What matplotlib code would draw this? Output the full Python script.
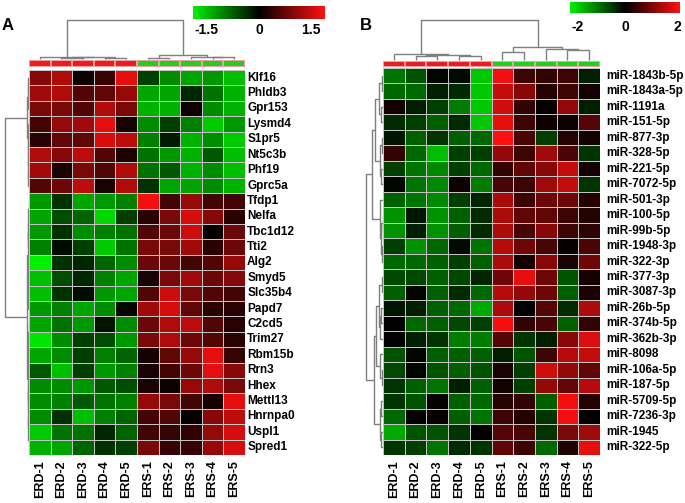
import numpy as np
import matplotlib
matplotlib.use("Agg")
import matplotlib.pyplot as plt
from matplotlib.colors import LinearSegmentedColormap, Normalize, TwoSlopeNorm, ListedColormap
import matplotlib.cm as cm

plt.rcParams['font.family'] = ['Liberation Sans', 'DejaVu Sans']
plt.rcParams['font.weight'] = 'bold'

# ---------------- DATA ----------------
samples = ["ERD-1", "ERD-2", "ERD-3", "ERD-4", "ERD-5",
           "ERS-1", "ERS-2", "ERS-3", "ERS-4", "ERS-5"]
groups = [0, 0, 0, 0, 0, 1, 1, 1, 1, 1]

genes_a = ["Klf16", "Phldb3", "Gpr153", "Lysmd4", "S1pr5", "Nt5c3b", "Phf19", "Gprc5a",
           "Tfdp1", "Nelfa", "Tbc1d12", "Tti2", "Alg2", "Smyd5", "Slc35b4", "Papd7",
           "C2cd5", "Trim27", "Rbm15b", "Rrn3", "Hhex", "Mettl13", "Hnrnpa0", "Uspl1", "Spred1"]
values_a = [
    [1.0, 1.3, 0.1, 0.4, 1.7, -0.5, -1.1, -1.3, -1.2, -1.5],
    [1.2, 1.3, 0.6, 0.7, 1.1, -1.3, -1.3, -0.3, -0.9, -1.4],
    [0.9, 0.9, 0.6, 1.3, 0.9, -1.4, -1.4, 0.1, -1.1, -1.4],
    [0.5, 1.1, 1.2, 1.7, 0.2, -1.1, -0.5, -1.0, -1.6, -1.2],
    [0.3, 0.7, 0.7, 1.6, 1.4, -1.0, -0.2, -1.4, -1.1, -1.6],
    [1.3, 1.0, 1.4, 0.6, 0.2, -0.9, -1.2, -1.4, -0.7, -1.5],
    [1.2, 0.2, 0.9, 0.6, 1.3, -0.9, -0.7, -1.4, -1.1, -1.5],
    [0.6, 0.8, 1.4, 0.2, 1.3, -0.4, -1.3, -1.3, -1.1, -1.4],
    [-1.2, -0.4, -1.3, -1.2, -1.0, 1.8, 0.5, 1.1, 0.5, 0.5],
    [-1.3, -0.6, -0.8, -1.7, -0.5, 0.3, 0.9, 1.6, 1.0, 0.3],
    [-1.2, -0.4, -1.1, -1.0, -0.9, 0.6, 0.8, 1.5, 0.05, 0.8],
    [-1.0, -0.1, -0.5, -1.6, -0.9, 0.9, 0.9, 1.2, 0.3, 0.8],
    [-1.9, -0.4, -0.3, -0.8, -1.1, 0.8, 0.8, 0.5, 0.6, 1.1],
    [-1.5, -0.6, -0.3, -1.0, -1.3, 0.2, 0.9, 1.2, 0.8, 1.0],
    [-1.5, -0.4, -0.1, -1.2, -1.3, 0.6, 1.5, 0.9, 0.6, 0.5],
    [-1.2, -1.0, -1.3, -1.1, -0.05, 1.2, 1.6, 0.7, 0.3, 0.3],
    [-1.3, -0.9, -1.2, -0.15, -1.1, 0.8, 1.3, 1.4, 0.6, 0.3],
    [-1.8, -1.1, -0.5, -0.6, -1.2, 0.9, 1.3, 0.8, 0.6, 0.3],
    [-1.3, -1.1, -0.5, -1.0, -0.8, 0.15, 0.7, 1.1, 1.7, 0.4],
    [-0.7, -1.5, -0.5, -1.2, -1.0, 0.2, 0.5, 0.8, 1.7, 1.0],
    [-1.1, -1.1, -1.2, -0.7, -0.6, 0.2, 0.1, 1.1, 1.3, 0.9],
    [-1.1, -1.0, -0.7, -0.9, -1.0, 1.1, 0.9, 0.5, 0.15, 1.7],
    [-1.1, -0.4, -1.5, -1.0, -0.8, 0.5, 0.6, 0.05, 1.0, 1.4],
    [-1.6, -0.9, -0.9, -0.3, -0.8, 0.5, 0.4, 0.35, 1.1, 1.6],
    [-1.4, -1.3, -0.8, -0.4, -0.5, 0.9, 0.4, 0.4, 1.1, 1.6],
]

mirs_b = ["miR-1843b-5p", "miR-1843a-5p", "miR-1191a", "miR-151-5p", "miR-877-3p",
          "miR-328-5p", "miR-221-5p", "miR-7072-5p", "miR-501-3p", "miR-100-5p",
          "miR-99b-5p", "miR-1948-3p", "miR-322-3p", "miR-377-3p", "miR-3087-3p",
          "miR-26b-5p", "miR-374b-5p", "miR-362b-3p", "miR-8098", "miR-106a-5p",
          "miR-187-5p", "miR-5709-5p", "miR-7236-3p", "miR-1945", "miR-322-5p"]
values_b = [
    [-1.1, -0.8, -0.05, -0.1, -1.9, 2.0, 0.5, 0.4, 0.5, -0.3],
    [-1.0, -1.0, -0.3, -0.4, -1.9, 1.6, 1.1, 0.3, 0.5, 0.15],
    [0.15, -0.3, -0.6, -1.2, -1.9, 1.7, 0.4, 0.05, 1.2, -0.3],
    [-0.4, -0.6, -0.9, -0.4, -1.9, 1.9, 0.5, 0.1, 0.1, 0.7],
    [-0.2, -0.9, -0.5, -0.9, -1.0, 2.1, 0.6, -0.6, 0.3, 0.15],
    [0.4, -1.0, -1.8, -0.6, -0.6, 1.2, 0.5, 1.3, 0.6, -0.5],
    [-0.6, -1.1, -1.3, -0.6, -1.0, 0.4, 0.8, 1.1, 1.6, 0.15],
    [-0.05, -1.1, -1.3, 0.1, -1.2, 0.6, 0.5, 1.3, 1.6, -0.5],
    [-0.9, -1.1, -1.3, -0.6, -0.35, 1.4, 0.5, 0.9, 0.9, 0.3],
    [-1.4, -0.2, -1.4, -0.9, -0.4, 1.4, 0.8, 0.8, 0.5, 0.3],
    [-1.4, -0.3, -1.4, -0.9, -0.4, 1.4, 0.6, 1.1, 0.5, 0.35],
    [-0.6, -1.4, -1.0, -0.1, -1.1, 1.5, 0.9, 0.6, 0.05, 0.6],
    [-1.0, -1.0, -0.9, -0.6, -0.9, 1.4, 0.15, 1.1, 0.2, 0.9],
    [-0.7, -0.7, -0.9, -0.7, -0.35, 0.9, 1.9, 0.9, -0.8, 0.15],
    [-0.9, -0.05, -0.9, -0.4, -1.0, 1.5, 1.2, 0.9, -0.9, 0.2],
    [-0.2, -0.3, -0.9, -1.0, -1.6, 1.4, 0.0, 0.7, -0.4, 1.4],
    [0.0, -1.0, -0.9, -0.7, -0.6, 2.0, 0.4, 0.6, -0.9, 0.4],
    [0.0, -0.3, -0.5, -1.2, -1.2, 0.7, -0.5, -0.3, 1.1, 1.8],
    [-0.8, -0.05, -0.9, -0.9, -0.9, -0.3, -0.8, 0.5, 1.5, 1.6],
    [-0.7, -0.05, -0.8, -0.9, -0.8, 0.2, -0.6, 1.7, 1.2, 0.8],
    [-0.5, -0.9, -1.1, -0.3, -0.9, 0.15, -0.6, 1.2, 0.8, 1.5],
    [-0.5, -0.8, 0.05, -0.9, -1.0, 0.3, 0.4, -0.9, 2.0, 0.3],
    [-1.0, 0.0, 0.05, -0.9, -1.1, 0.5, 0.3, -0.5, 2.0, 0.0],
    [-1.6, -0.8, -0.8, -0.5, 0.0, 0.7, 0.6, -0.5, 1.0, 1.3],
    [-0.5, -0.6, -1.1, -0.4, -0.5, 0.8, 0.5, -1.0, 0.25, 1.9],
]

# dendrogram trees: (left, right, height), leaves are row/column indices
col_tree_a = ((0, ((1, 2, 1.5), (3, 4, 1.5), 2.0), 2.5),
              ((5, 6, 1.3), (7, (8, 9, 2.0), 2.3), 4.0), 39)
col_tree_b = ((0, ((1, 2, 4.3), (3, 4, 4.5), 5.0), 5.7),
              ((5, 6, 7.7), (7, (8, 9, 10.0), 10.7), 13.3), 40)
row_tree_a = ((((0, 1, 0.8), 2, 1.2), (3, (4, (5, (6, 7, 0.6), 0.9), 1.2), 1.5), 2.0),
              ((((8, 9, 0.5), (10, 11, 0.7), 1.0), ((12, 13, 0.6), (14, 15, 0.8), 1.1), 1.5),
               (((16, 17, 0.5), (18, 19, 0.7), 1.0), ((20, 21, 0.6), (22, (23, 24, 0.5), 0.8), 1.2), 1.5),
               2.0),
              24)
row_tree_b = (((((0, 1, 1.5), (2, 3, 2.0), 4.0), ((4, 5, 1.5), (6, 7, 2.0), 3.0), 8.0),
               (8, ((9, 10, 0.5), (11, 12, 1.5), 2.5), 3.5), 11.0),
              ((((13, 14, 1.5), ((15, 16, 2.0), 17, 3.0), 4.5), (18, (19, 20, 1.5), 3.0), 7.0),
               ((21, 22, 2.0), (23, 24, 2.5), 3.0), 9.0),
              17)

# ---------------- FIGURE ----------------
W, H = 685, 503
fig = plt.figure(figsize=(W / 100, H / 100), dpi=100)


def ax_px(x0, y0, x1, y1):
    return fig.add_axes([x0 / W, 1 - y1 / H, (x1 - x0) / W, (y1 - y0) / H])


cmap = LinearSegmentedColormap.from_list('gkr', ['#00f000', '#000000', '#ff1010'])
grp_cmap = ListedColormap(['#ec1c1c', '#1fd01f'])
line_c = '#7f7f7f'


def draw_tree(ax, node, orient):
    if isinstance(node, int):
        return node + 0.5, 0.0
    l, r, h = node
    pl, hl = draw_tree(ax, l, orient)
    pr, hr = draw_tree(ax, r, orient)
    if orient == 'top':
        ax.plot([pl, pl, pr, pr], [hl, h, h, hr], color=line_c, lw=1.0, solid_capstyle='butt')
    else:
        ax.plot([hl, h, h, hr], [pl, pl, pr, pr], color=line_c, lw=1.0, solid_capstyle='butt')
    return (pl + pr) / 2, h


def clean(ax):
    ax.set_xticks([])
    ax.set_yticks([])
    for s in ax.spines.values():
        s.set_visible(False)
    ax.patch.set_alpha(0)


def panel(data, rows, hm, bar, cdend, rdend, col_tree, row_tree, norm, label_gap):
    data = np.array(data)
    nr, nc = data.shape
    ax = ax_px(*hm)
    ax.pcolormesh(np.arange(nc + 1), np.arange(nr + 1), data, cmap=cmap, norm=norm,
                  edgecolors='#c4c4c4', linewidth=0.6)
    ax.set_xlim(0, nc)
    ax.set_ylim(nr, 0)
    clean(ax)
    for i, r in enumerate(rows):
        ax.text(nc + label_gap, i + 0.5, r, ha='left', va='center', fontsize=8.5,
                fontweight='bold')
    for j, s in enumerate(samples):
        ax.text(j + 0.5, nr + 0.35, s, ha='center', va='top', rotation=90,
                fontsize=9, fontweight='bold')
    # group bar
    axb = ax_px(*bar)
    axb.pcolormesh(np.arange(nc + 1), [0, 1], np.array([groups]), cmap=grp_cmap,
                   vmin=0, vmax=1, edgecolors='#f0a0a0', linewidth=0.3)
    axb.set_xlim(0, nc)
    axb.set_ylim(0, 1)
    clean(axb)
    # column dendrogram
    axc = ax_px(*cdend)
    draw_tree(axc, col_tree, 'top')
    axc.set_xlim(0, nc)
    axc.set_ylim(-1, cdend[3] - cdend[1] - 1)
    clean(axc)
    # row dendrogram
    axr = ax_px(*rdend)
    draw_tree(axr, row_tree, 'left')
    axr.set_ylim(nr, 0)
    axr.set_xlim(rdend[2] - rdend[0], 0)
    clean(axr)
    return ax


norm_a = Normalize(vmin=-1.9, vmax=1.9)
norm_b = TwoSlopeNorm(vmin=-2.3, vcenter=0, vmax=2.1)

panel(values_a, genes_a, (29, 70, 245, 455), (29, 60, 245, 67),
      (29, 18, 245, 60), (2, 70, 29, 455), col_tree_a, row_tree_a, norm_a, 0.1)
panel(values_b, mirs_b, (383, 68, 600, 455), (383, 61, 600, 67),
      (383, 19, 600, 61), (362, 68, 383, 455), col_tree_b, row_tree_b, norm_b, 0.3)

# colorbars
for (box, norm, ticks, labels, pad) in [((193, 6, 325, 19), norm_a, [-1.5, 0, 1.5], ['-1.5', '0', '1.5'], 3),
                                        ((570, 2, 680, 13), norm_b, [-2, 0, 2], ['-2', '0', '2'], 5)]:
    cax = ax_px(*box)
    sm = cm.ScalarMappable(norm=norm, cmap=cmap)
    cb = fig.colorbar(sm, cax=cax, orientation='horizontal')
    cb.outline.set_visible(False)
    cb.set_ticks(ticks)
    cb.set_ticklabels(labels)
    cax.tick_params(length=0, pad=pad, labelsize=10)
    for t in cax.get_xticklabels():
        t.set_fontweight('bold')

fig.text(2 / W, 1 - 26 / H, 'A', fontsize=12, fontweight='bold', ha='left', va='center')
fig.text(360 / W, 1 - 26 / H, 'B', fontsize=12, fontweight='bold', ha='left', va='center')

fig.savefig('out.png', dpi=100)
